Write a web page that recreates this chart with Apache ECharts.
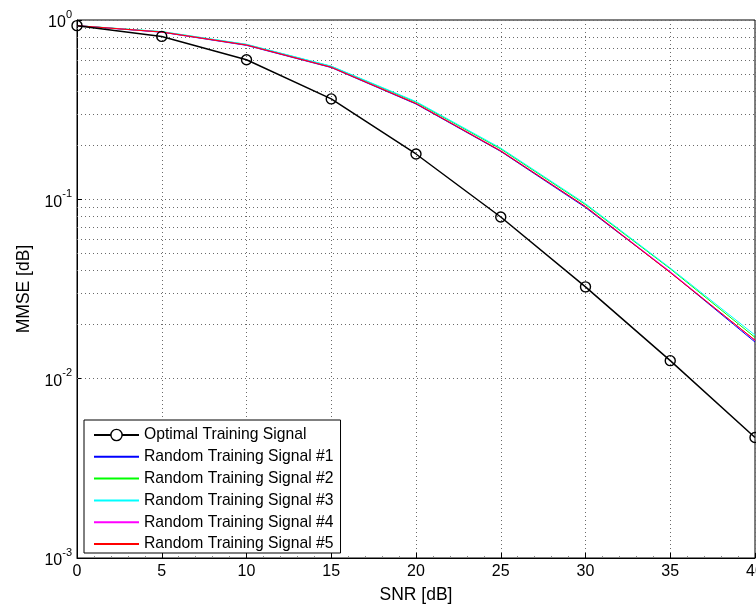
<!DOCTYPE html>
<html>
<head>
<meta charset="utf-8">
<script src="https://cdn.jsdelivr.net/npm/echarts@6/dist/echarts.min.js"></script>
<style>
  html, body { margin: 0; padding: 0; background: #fff; }
  #chart { width: 756px; height: 607px; }
</style>
</head>
<body>
<div id="chart"></div>
<script>
  // SNR points
  const snr = [0, 5, 10, 15, 20, 25, 30, 35, 40]
  const optimal = [0.93, 0.81, 0.60, 0.363, 0.179, 0.0797, 0.0325, 0.0126, 0.0047]
  const random1 = [0.93, 0.855, 0.722, 0.543, 0.340, 0.185, 0.0900, 0.0392, 0.0160]
  const random2 = [0.93, 0.860, 0.730, 0.551, 0.348, 0.191, 0.0935, 0.0410, 0.0170]
  const random3 = [0.93, 0.862, 0.732, 0.553, 0.351, 0.193, 0.0945, 0.0414, 0.0175]
  const random4 = [0.93, 0.857, 0.726, 0.546, 0.343, 0.187, 0.0912, 0.0395, 0.0163]
  const random5 = [0.93, 0.857, 0.725, 0.545, 0.342, 0.186, 0.0910, 0.0390, 0.0164]
  const seriesNames = ['Optimal Training Signal', 'Random Training Signal #1', 'Random Training Signal #2',
    'Random Training Signal #3', 'Random Training Signal #4', 'Random Training Signal #5']
  const colors = ['#000000', '#0000ff', '#00ff00', '#00ffff', '#ff00ff', '#ff0000']
  const yExponents = [0, -1, -2, -3]

  const font = 'Liberation Sans'
  const dotted = { color: '#6a6a6a', width: 1, type: [1, 3] }

  // minor log grid lines (2..9 x 10^k)
  const minorLines = []
  for (let k = -3; k < 0; k++) {
    for (let m = 2; m <= 9; m++) {
      minorLines.push({ yAxis: m * Math.pow(10, k) })
    }
  }

  const pairs = arr => arr.map((v, i) => [snr[i], v])
  const allData = [optimal, random1, random2, random3, random4, random5]

  const series = allData.map((arr, i) => ({
    name: seriesNames[i],
    type: 'line',
    data: pairs(arr),
    color: colors[i],
    symbol: i === 0 ? 'circle' : 'none',
    symbolSize: 10,
    showSymbol: i === 0,
    itemStyle: i === 0 ? { color: 'rgba(255,255,255,0)', borderColor: '#000', borderWidth: 1.4 } : { color: colors[i] },
    lineStyle: { color: colors[i], width: i === 0 ? 1.5 : 1 },
    z: 3 + i,
    animation: false
  }))
  series[0].z = 10
  series.push({
    type: 'line',
    data: [],
    silent: true,
    animation: false,
    markLine: {
      silent: true,
      symbol: 'none',
      label: { show: false },
      lineStyle: dotted,
      data: minorLines
    },
    z: 1
  })

  // legend entries: circle only on the optimal one
  const legendData = seriesNames.map((n, i) => i === 0
    ? { name: n, itemStyle: { color: '#fff', borderColor: '#000', borderWidth: 1.4 } }
    : { name: n, itemStyle: { opacity: 0 } })

  const chart = echarts.init(document.getElementById('chart'))
  chart.setOption({
    backgroundColor: '#fff',
    animation: false,
    textStyle: { fontFamily: font },
    grid: {
      left: 77, right: 1, top: 20, bottom: 49,
      outerBoundsMode: 'none',
      containLabel: false,
      show: true, borderColor: '#000', borderWidth: 1
    },
    legend: {
      data: legendData,
      orient: 'vertical',
      left: 84,
      top: 420,
      padding: [7, 7, 1, 9],
      itemGap: 5.8,
      itemWidth: 45,
      itemHeight: 14,
      backgroundColor: '#fff',
      borderColor: '#000',
      borderWidth: 1,
      textStyle: { fontFamily: font, fontSize: 15.7, color: '#000' }
    },
    xAxis: {
      type: 'value',
      min: 0, max: 40, interval: 5,
      name: 'SNR [dB]',
      nameLocation: 'middle',
      nameGap: 28,
      nameTextStyle: { fontFamily: font, fontSize: 17.5, color: '#000' },
      axisLine: { lineStyle: { color: '#000', width: 1 } },
      axisTick: { inside: true, length: 5, lineStyle: { color: '#000' } },
      minorTick: { show: true, splitNumber: 5, length: 2, lineStyle: { color: '#888' } },
      axisLabel: { fontFamily: font, fontSize: 16, color: '#000', margin: 6, showMaxLabel: true, hideOverlap: false },
      splitLine: { show: true, lineStyle: dotted }
    },
    yAxis: {
      type: 'log',
      logBase: 10,
      min: 0.001, max: 1,
      name: 'MMSE [dB]',
      nameLocation: 'middle',
      nameGap: 40,
      nameTextStyle: { fontFamily: font, fontSize: 17.5, color: '#000' },
      axisLine: { lineStyle: { color: '#000', width: 1 } },
      axisTick: { inside: true, length: 5, lineStyle: { color: '#000' } },
      axisLabel: {
        margin: 5,
        formatter: v => {
          const e = Math.round(Math.log10(v))
          return yExponents.indexOf(e) >= 0 ? '{b|10}{s|' + e + '}' : ''
        },
        rich: {
          b: { fontFamily: font, fontSize: 16, color: '#000', lineHeight: 22, verticalAlign: 'bottom' },
          s: { fontFamily: font, fontSize: 11, color: '#000', lineHeight: 22, verticalAlign: 'top' }
        }
      },
      splitLine: { show: true, lineStyle: dotted }
    },
    series: series
  })
</script>
</body>
</html>
